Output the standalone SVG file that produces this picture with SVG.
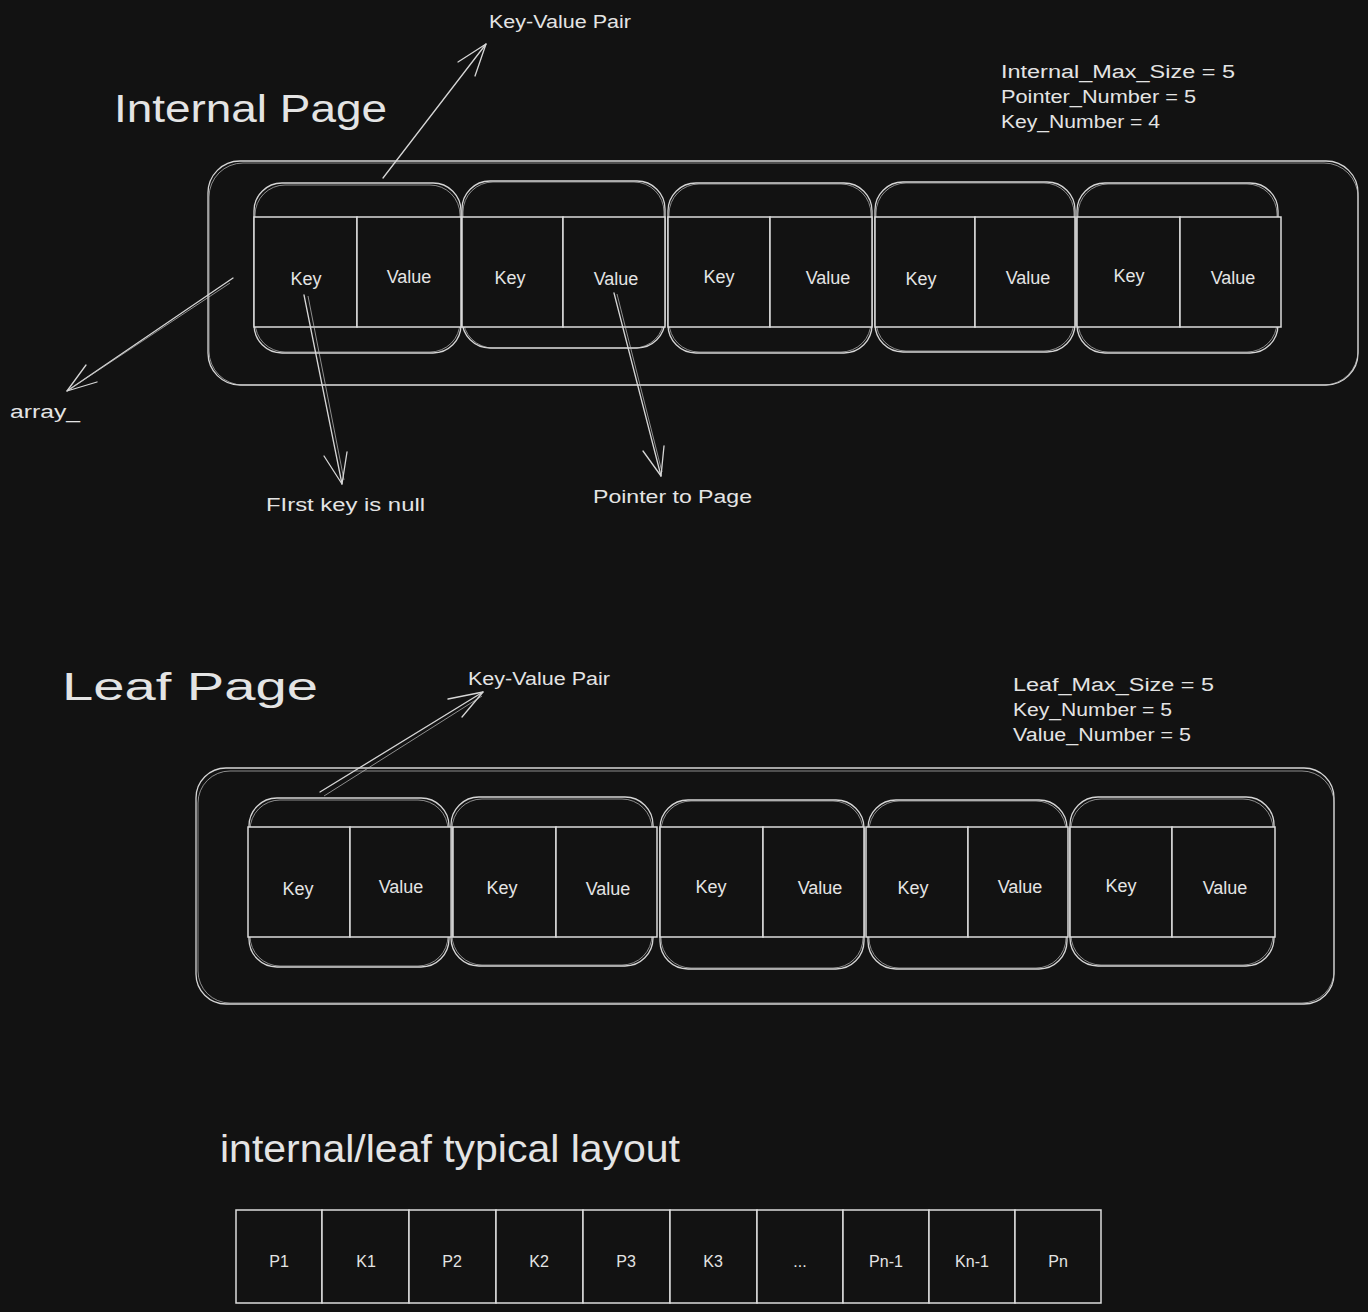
<svg xmlns="http://www.w3.org/2000/svg" width="1368" height="1312" viewBox="0 0 1368 1312">
<style>
.s{fill:none;stroke:#d6d6d6;stroke-width:1.3;stroke-linecap:round;stroke-linejoin:round}
.s2{fill:none;stroke:#bdbdbd;stroke-width:0.9;opacity:0.8}
.c{fill:#121212;stroke:#dcdcdc;stroke-width:1.5}
.t{fill:#e4e4e4;font-family:"Liberation Sans","DejaVu Sans",sans-serif}
.lbl{font-size:18px;text-anchor:middle}
.ann{font-size:18px}
.ttl{font-size:38px}
.lay{font-size:16px;text-anchor:middle}
</style>
<rect width="1368" height="1312" fill="#121212"/>

<!-- Internal page -->
<g id="internal-title">
<text class="t ttl" x="114" y="122" textLength="273" lengthAdjust="spacingAndGlyphs">Internal Page</text>
</g>
<g id="internal-notes">
<text class="t ann" x="1001" y="78" textLength="234" lengthAdjust="spacingAndGlyphs">Internal_Max_Size = 5</text>
<text class="t ann" x="1001" y="103" textLength="195" lengthAdjust="spacingAndGlyphs">Pointer_Number = 5</text>
<text class="t ann" x="1001" y="128" textLength="159" lengthAdjust="spacingAndGlyphs">Key_Number = 4</text>
</g>
<g id="internal-page">
<rect class="s" x="208" y="161" width="1150" height="224" rx="32"/>
<rect class="s2" x="209" y="163" width="1149" height="222" rx="34"/>
</g>
<g id="internal-pair-1">
<rect class="s" x="254" y="183" width="207" height="170" rx="28"/>
<rect class="s2" x="255" y="185" width="205" height="167" rx="30"/>
<rect class="c" x="254" y="217" width="103" height="110"/>
<rect class="c" x="357" y="217" width="104" height="110"/>
<text class="t lbl" x="306" y="285">Key</text>
<text class="t lbl" x="409" y="283" font-size="19">Value</text>
</g>
<g id="internal-pair-2">
<rect class="s" x="462" y="181" width="203" height="167" rx="28"/>
<rect class="s2" x="463" y="182" width="201" height="166" rx="30"/>
<rect class="c" x="462" y="217" width="101" height="110"/>
<rect class="c" x="563" y="217" width="102" height="110"/>
<text class="t lbl" x="510" y="284">Key</text>
<text class="t lbl" x="616" y="285" font-size="19">Value</text>
</g>
<g id="internal-pair-3">
<rect class="s" x="668" y="183" width="204" height="170" rx="28"/>
<rect class="s2" x="669" y="184" width="202" height="168" rx="30"/>
<rect class="c" x="668" y="217" width="102" height="110"/>
<rect class="c" x="770" y="217" width="102" height="110"/>
<text class="t lbl" x="719" y="283">Key</text>
<text class="t lbl" x="828" y="284" font-size="19">Value</text>
</g>
<g id="internal-pair-4">
<rect class="s" x="875" y="182" width="200" height="170" rx="28"/>
<rect class="s2" x="876" y="183" width="198" height="168" rx="30"/>
<rect class="c" x="875" y="217" width="100" height="110"/>
<rect class="c" x="975" y="217" width="100" height="110"/>
<text class="t lbl" x="921" y="285">Key</text>
<text class="t lbl" x="1028" y="284" font-size="19">Value</text>
</g>
<g id="internal-pair-5">
<rect class="s" x="1077" y="183" width="201" height="170" rx="28"/>
<rect class="s2" x="1078" y="184" width="199" height="168" rx="30"/>
<rect class="c" x="1077" y="217" width="103" height="110"/>
<rect class="c" x="1180" y="217" width="101" height="110"/>
<text class="t lbl" x="1129" y="282">Key</text>
<text class="t lbl" x="1233" y="284" font-size="19">Value</text>
</g>

<!-- annotation labels -->
<g id="label-kv-top"><text class="t ann" x="489" y="28" textLength="142" lengthAdjust="spacingAndGlyphs">Key-Value Pair</text></g>
<g id="label-array"><text class="t ann" x="10" y="418" textLength="70" lengthAdjust="spacingAndGlyphs">array_</text></g>
<g id="label-first-key"><text class="t ann" x="266" y="511" textLength="159" lengthAdjust="spacingAndGlyphs">FIrst key is null</text></g>
<g id="label-pointer"><text class="t ann" x="593" y="503" textLength="159" lengthAdjust="spacingAndGlyphs">Pointer to Page</text></g>

<!-- Leaf page -->
<g id="leaf-title">
<text class="t ttl" x="62" y="700" font-size="43" textLength="256" lengthAdjust="spacingAndGlyphs">Leaf Page</text>
</g>
<g id="label-kv-leaf"><text class="t ann" x="468" y="685" textLength="142" lengthAdjust="spacingAndGlyphs">Key-Value Pair</text></g>
<g id="leaf-notes">
<text class="t ann" x="1013" y="691" textLength="201" lengthAdjust="spacingAndGlyphs">Leaf_Max_Size = 5</text>
<text class="t ann" x="1013" y="716" textLength="159" lengthAdjust="spacingAndGlyphs">Key_Number = 5</text>
<text class="t ann" x="1013" y="741" textLength="178" lengthAdjust="spacingAndGlyphs">Value_Number = 5</text>
</g>
<g id="leaf-page">
<rect class="s" x="196" y="768" width="1138" height="236" rx="30"/>
<rect class="s2" x="198" y="771" width="1136" height="232" rx="32"/>
</g>
<g id="leaf-pair-1">
<rect class="s" x="249" y="798" width="200" height="169" rx="28"/>
<rect class="s2" x="250" y="800" width="198" height="166" rx="30"/>
<rect class="c" x="248" y="827" width="102" height="110"/>
<rect class="c" x="350" y="827" width="102" height="110"/>
<text class="t lbl" x="298" y="895">Key</text>
<text class="t lbl" x="401" y="893" font-size="19">Value</text>
</g>
<g id="leaf-pair-2">
<rect class="s" x="451" y="797" width="202" height="169" rx="28"/>
<rect class="s2" x="452" y="799" width="200" height="166" rx="30"/>
<rect class="c" x="453" y="827" width="103" height="110"/>
<rect class="c" x="556" y="827" width="101" height="110"/>
<text class="t lbl" x="502" y="894">Key</text>
<text class="t lbl" x="608" y="895" font-size="19">Value</text>
</g>
<g id="leaf-pair-3">
<rect class="s" x="660" y="800" width="204" height="169" rx="28"/>
<rect class="s2" x="661" y="801" width="202" height="167" rx="30"/>
<rect class="c" x="660" y="827" width="103" height="110"/>
<rect class="c" x="763" y="827" width="101" height="110"/>
<text class="t lbl" x="711" y="893">Key</text>
<text class="t lbl" x="820" y="894" font-size="19">Value</text>
</g>
<g id="leaf-pair-4">
<rect class="s" x="868" y="800" width="199" height="169" rx="28"/>
<rect class="s2" x="869" y="801" width="197" height="167" rx="30"/>
<rect class="c" x="866" y="827" width="102" height="110"/>
<rect class="c" x="968" y="827" width="100" height="110"/>
<text class="t lbl" x="913" y="894">Key</text>
<text class="t lbl" x="1020" y="893" font-size="19">Value</text>
</g>
<g id="leaf-pair-5">
<rect class="s" x="1070" y="797" width="204" height="169" rx="28"/>
<rect class="s2" x="1071" y="799" width="202" height="166" rx="30"/>
<rect class="c" x="1070" y="827" width="102" height="110"/>
<rect class="c" x="1172" y="827" width="103" height="110"/>
<text class="t lbl" x="1121" y="892">Key</text>
<text class="t lbl" x="1225" y="894" font-size="19">Value</text>
</g>

<!-- Typical layout -->
<g id="layout-title">
<text class="t ttl" x="220" y="1162" font-size="36" textLength="460" lengthAdjust="spacingAndGlyphs">internal/leaf typical layout</text>
</g>
<g id="layout-row">
<rect class="c" x="236" y="1210" width="86" height="93"/>
<rect class="c" x="322" y="1210" width="87" height="93"/>
<rect class="c" x="409" y="1210" width="87" height="93"/>
<rect class="c" x="496" y="1210" width="87" height="93"/>
<rect class="c" x="583" y="1210" width="87" height="93"/>
<rect class="c" x="670" y="1210" width="87" height="93"/>
<rect class="c" x="757" y="1210" width="86" height="93"/>
<rect class="c" x="843" y="1210" width="86" height="93"/>
<rect class="c" x="929" y="1210" width="86" height="93"/>
<rect class="c" x="1015" y="1210" width="86" height="93"/>
<text class="t lay" x="279" y="1267">P1</text>
<text class="t lay" x="366" y="1267">K1</text>
<text class="t lay" x="452" y="1267">P2</text>
<text class="t lay" x="539" y="1267">K2</text>
<text class="t lay" x="626" y="1267">P3</text>
<text class="t lay" x="713" y="1267">K3</text>
<text class="t lay" x="800" y="1267">...</text>
<text class="t lay" x="886" y="1267">Pn-1</text>
<text class="t lay" x="972" y="1267">Kn-1</text>
<text class="t lay" x="1058" y="1267">Pn</text>
</g>

<!-- Connectors -->
<g id="connectors">
<path class="s" d="M383 178 L486 44"/>
<path class="s" d="M458 62 L486 44 L475 76"/>
<path class="s" d="M233 278 L67 391"/>
<path class="s2" d="M230 283 L70 389"/>
<path class="s" d="M86 365 L67 391 L97 382"/>
<path class="s" d="M304 295 L342 484"/>
<path class="s2" d="M308 296 L344 480"/>
<path class="s" d="M324 456 L342 484 L347 452"/>
<path class="s" d="M614 293 L661 476"/>
<path class="s2" d="M617 294 L662 472"/>
<path class="s" d="M643 451 L661 476 L664 446"/>
<path class="s" d="M320 792 L483 692"/>
<path class="s2" d="M324 796 L482 696"/>
<path class="s" d="M448 699 L483 692 L462 717"/>
</g>
</svg>
